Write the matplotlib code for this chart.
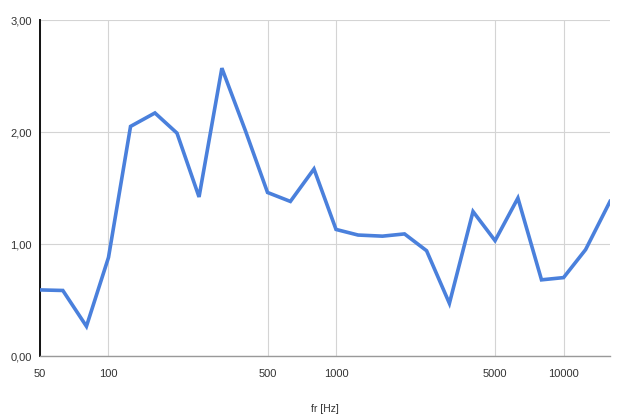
import matplotlib
matplotlib.use("Agg")
import matplotlib.pyplot as plt
from matplotlib.ticker import FixedLocator, NullLocator

plt.rcParams['font.family'] = ['Liberation Sans', 'DejaVu Sans']

# 1/3-octave band centre frequencies and measured values
freqs = [50, 63, 80, 100, 125, 160, 200, 250, 315, 400, 500, 630, 800,
         1000, 1250, 1600, 2000, 2500, 3150, 4000, 5000, 6300, 8000,
         10000, 12500, 16000]
values = [0.59, 0.585, 0.265, 0.88, 2.05, 2.17, 1.99, 1.42, 2.57, 2.01,
          1.46, 1.38, 1.67, 1.13, 1.08, 1.07, 1.09, 0.94, 0.47, 1.29,
          1.03, 1.41, 0.68, 0.70, 0.95, 1.38]

x_ticks = [50, 100, 500, 1000, 5000, 10000]
x_tick_labels = ["50", "100", "500", "1000", "5000", "10000"]
y_ticks = [0, 1, 2, 3]
y_tick_labels = ["0,00", "1,00", "2,00", "3,00"]

fig = plt.figure(figsize=(6.29, 4.19), dpi=100)
W, H = 629, 419
ax = fig.add_axes([40 / W, (H - 356) / H, (610 - 40) / W, 336 / H])

ax.plot(freqs, values, color="#4a80dc", linewidth=2.6, solid_joinstyle="miter",
        zorder=3)

ax.set_xscale("log")
ax.set_xlim(50, 16000)
ax.set_ylim(0, 3)
ax.xaxis.set_major_locator(FixedLocator(x_ticks))
ax.xaxis.set_minor_locator(NullLocator())
ax.set_xticks(x_ticks)
ax.set_xticklabels(x_tick_labels)
ax.set_yticks(y_ticks)
ax.set_yticklabels(y_tick_labels)

ax.tick_params(axis="both", length=0, labelsize=8, labelcolor="#333333")
ax.tick_params(axis="x", pad=9)
ax.tick_params(axis="y", pad=6)

ax.grid(True, color="#d4d4d4", linewidth=0.8, zorder=0)
for s in ("top", "right"):
    ax.spines[s].set_visible(False)
ax.spines["left"].set_color("#111111")
ax.spines["left"].set_linewidth(1.4)
ax.spines["bottom"].set_color("#999999")
ax.spines["bottom"].set_linewidth(1.0)

ax.set_xlabel("fr [Hz]", fontsize=7.5, color="#333333", labelpad=18)

fig.savefig("out.png", dpi=100, facecolor="white")
